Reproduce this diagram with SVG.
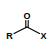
<svg xmlns="http://www.w3.org/2000/svg" width="54" height="56" viewBox="0 0 54 56">
<style>
.t{font-family:"Liberation Sans",Arial,sans-serif;font-weight:bold;font-size:9px;fill:#000;text-anchor:middle}
.b{stroke:#000;stroke-width:1.1;fill:none;stroke-linecap:round}
</style>
<rect width="54" height="56" fill="#fff"/>
<g id="bonds">
<line class="b" x1="14" y1="33.5" x2="27" y2="27"/>
<line class="b" x1="27" y1="27" x2="39.5" y2="33.5"/>
<line class="b" x1="25.8" y1="20.5" x2="25.8" y2="27.5"/>
<line class="b" x1="28.2" y1="20.5" x2="28.2" y2="27"/>
</g>
<g id="O"><text class="t" x="27" y="19.3">O</text></g>
<g id="R"><text class="t" x="9.5" y="38.8">R</text></g>
<g id="X"><text class="t" x="43.5" y="38.8">X</text></g>
</svg>
